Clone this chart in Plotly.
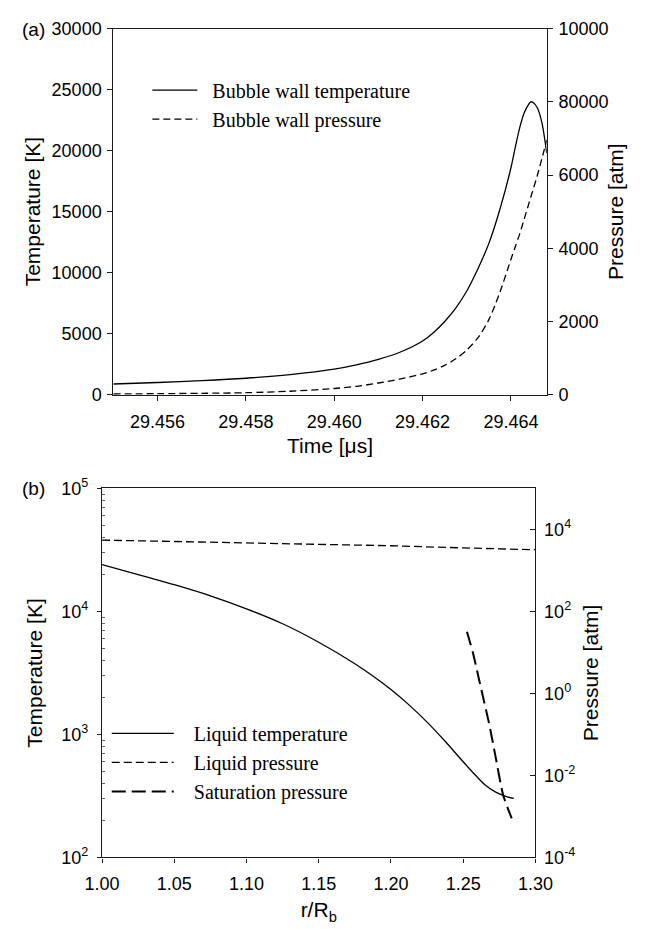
import plotly.graph_objects as go

# ---------------- Panel (a) data ----------------
time_us = [29.4550, 29.4560, 29.4570, 29.4580, 29.4590, 29.4600, 29.4605, 29.4610,
           29.4615, 29.4620, 29.46225, 29.4625, 29.46275, 29.4630, 29.46325, 29.4635,
           29.46375, 29.4640, 29.4641, 29.4642, 29.4643, 29.4644, 29.46445, 29.4645,
           29.4646, 29.4647, 29.46481]
wall_temperature_K = [880, 1000, 1150, 1350, 1650, 2100, 2450, 2900,
                      3500, 4400, 5100, 6000, 7100, 8500, 10300, 12400,
                      15200, 18600, 20300, 21900, 23100, 23800, 24000, 23950,
                      23500, 22300, 19800]
wall_pressure_atm = [20, 28, 38, 55, 95, 170, 230, 320,
                     430, 570, 670, 800, 980, 1220, 1550, 2050,
                     2800, 3700, 4050, 4400, 4800, 5200, 5400, 5600,
                     6000, 6450, 6950]

time_ticks = [29.456, 29.458, 29.460, 29.462, 29.464]
temp_ticks_a = [0, 5000, 10000, 15000, 20000, 25000, 30000]
press_ticks_a = [0, 2000, 4000, 6000, 8000, 10000]
press_ticktext_a = ["0", "2000", "4000", "6000", "80000", "10000"]

# ---------------- Panel (b) data ----------------
r_temp = [1.00, 1.025, 1.05, 1.075, 1.10, 1.125, 1.15, 1.175, 1.1875, 1.20,
          1.2125, 1.225, 1.2375, 1.25, 1.2575, 1.265, 1.2725, 1.28, 1.285]
liquid_temperature_K = [24000, 19950, 16500, 13400, 10500, 7940, 5620, 3760, 2990, 2320,
                        1740, 1260, 880, 600, 480, 390, 340, 313, 302]
r_press = [1.00, 1.05, 1.10, 1.15, 1.20, 1.25, 1.30]
liquid_pressure_atm = [5500, 5100, 4750, 4400, 4000, 3550, 3200]
r_sat = [1.2526, 1.2567, 1.2605, 1.2642, 1.2683, 1.2723, 1.2777, 1.2836]
saturation_pressure_atm = [32, 10, 2.6, 0.7, 0.16, 0.03, 0.0033, 0.0009]

r_ticks = [1.00, 1.05, 1.10, 1.15, 1.20, 1.25, 1.30]
temp_ticks_b = [1e2, 1e3, 1e4, 1e5]
temp_ticktext_b = ["10<sup>2</sup>", "10<sup>3</sup>", "10<sup>4</sup>", "10<sup>5</sup>"]
temp_minor_b = [m * 10 ** e for e in (2, 3, 4) for m in range(2, 10)]
press_ticks_b = [1e-4, 1e-2, 1e0, 1e2, 1e4]
press_ticktext_b = ["10<sup>-4</sup>", "10<sup>-2</sup>", "10<sup>0</sup>", "10<sup>2</sup>", "10<sup>4</sup>"]

W, H = 645, 929
SANS = "Liberation Sans, Arial, sans-serif"
SERIF = "Liberation Serif, Times New Roman, serif"
AX = "#1a1a1a"
NB = "\u00a0"

def px_x(p):
    return p / W

def px_y(p):
    return 1 - p / H

fig = go.Figure()

fig.add_trace(go.Scatter(x=time_us, y=wall_temperature_K, mode="lines",
                         name=NB * 2 + "Bubble wall temperature",
                         line=dict(color="black", width=1.3, shape="spline", smoothing=0.8),
                         xaxis="x", yaxis="y", legend="legend"))
fig.add_trace(go.Scatter(x=time_us, y=wall_pressure_atm, mode="lines",
                         name=NB * 2 + "Bubble wall pressure",
                         line=dict(color="black", width=1.3, dash="7px,4px", shape="spline", smoothing=0.8),
                         xaxis="x", yaxis="y2", legend="legend"))

fig.add_trace(go.Scatter(x=r_temp, y=liquid_temperature_K, mode="lines",
                         name=NB * 3 + "Liquid temperature",
                         line=dict(color="black", width=1.3, shape="spline", smoothing=0.8),
                         xaxis="x2", yaxis="y3", legend="legend2"))
fig.add_trace(go.Scatter(x=r_press, y=liquid_pressure_atm, mode="lines",
                         name=NB * 3 + "Liquid pressure",
                         line=dict(color="black", width=1.3, dash="8px,4px"),
                         xaxis="x2", yaxis="y4", legend="legend2"))
fig.add_trace(go.Scatter(x=r_sat, y=saturation_pressure_atm, mode="lines",
                         name=NB * 3 + "Saturation pressure",
                         line=dict(color="black", width=2, dash="14px,6px", shape="spline", smoothing=0.6),
                         xaxis="x2", yaxis="y4", legend="legend2"))

tickfont = dict(family=SANS, size=18, color="black")
titlefont = dict(family=SANS, size=21, color="black")

dom_xa = [px_x(101), px_x(560)]
dom_ya = [px_y(392), px_y(17)]
dom_xb = [px_x(89), px_x(548)]
dom_yb = [px_y(866), px_y(488)]

common = dict(showgrid=False, zeroline=False, showline=True, linecolor=AX, linewidth=1.2,
              tickcolor=AX, tickfont=tickfont)

fig.update_layout(
    width=W, height=H,
    margin=dict(l=0, r=0, t=0, b=0),
    paper_bgcolor="white", plot_bgcolor="white",
    showlegend=True,
    xaxis=dict(domain=dom_xa, anchor="y", range=[29.455, 29.46481],
               tickvals=time_ticks, ticktext=[f"{v:.3f}" for v in time_ticks],
               mirror=True, ticks="outside", ticklen=5, ticklabelstandoff=6,
               title=dict(text=NB * 3 + "Time [μs]", font=titlefont, standoff=6), **common),
    yaxis=dict(domain=dom_ya, anchor="x", range=[0, 30000], tickvals=temp_ticks_a,
               ticktext=[str(v) for v in temp_ticks_a],
               ticks="outside", ticklen=5, ticklabelstandoff=2,
               title=dict(text="Temperature [K]", font=titlefont, standoff=5), **common),
    yaxis2=dict(domain=dom_ya, anchor="x", overlaying="y", side="right", range=[0, 10000],
                tickvals=press_ticks_a, ticktext=press_ticktext_a,
                ticks="outside", ticklen=5, ticklabelstandoff=2,
                title=dict(text="Pressure [atm]", font=titlefont, standoff=0), **common),
    xaxis2=dict(domain=dom_xb, anchor="y3", range=[1.0, 1.3],
                tickvals=r_ticks, ticktext=[f"{v:.2f}" for v in r_ticks],
                mirror=True, ticks="outside", ticklen=4, ticklabelstandoff=6,
                title=dict(text=NB * 6 + "r/R<sub>b</sub>", font=titlefont, standoff=9), **common),
    yaxis3=dict(domain=dom_yb, anchor="x2", type="log", range=[2, 5],
                tickvals=temp_ticks_b, ticktext=temp_ticktext_b,
                ticks="outside", ticklen=4, ticklabelstandoff=5,
                minor=dict(tickmode="array", tickvals=temp_minor_b, ticks="inside", ticklen=3,
                           tickcolor="#666", showgrid=False),
                title=dict(text="Temperature [K]", font=titlefont, standoff=12), **common),
    yaxis4=dict(domain=dom_yb, anchor="x2", overlaying="y3", side="right", type="log", range=[-4, 5],
                tickvals=press_ticks_b, ticktext=press_ticktext_b,
                ticks="inside", ticklen=5, ticklabelstandoff=4,
                title=dict(text="Pressure [atm]", font=titlefont, standoff=8), **common),
    legend=dict(x=px_x(137), y=px_y(60), xanchor="left", yanchor="top",
                bgcolor="rgba(0,0,0,0)", borderwidth=0, itemwidth=45,
                font=dict(family=SERIF, size=20, color="black"), tracegroupgap=0),
    legend2=dict(x=px_x(94), y=px_y(719), xanchor="left", yanchor="top",
                 bgcolor="rgba(0,0,0,0)", borderwidth=0, itemwidth=62,
                 font=dict(family=SERIF, size=20, color="black"), tracegroupgap=0),
    annotations=[
        dict(text="(a)", x=px_x(2), y=px_y(18), xref="paper", yref="paper",
             xanchor="left", yanchor="middle", showarrow=False, font=dict(family=SANS, size=19, color="black")),
        dict(text="(b)", x=px_x(2), y=px_y(488), xref="paper", yref="paper",
             xanchor="left", yanchor="middle", showarrow=False, font=dict(family=SANS, size=19, color="black")),
    ],
)

fig.write_html("out.html")
